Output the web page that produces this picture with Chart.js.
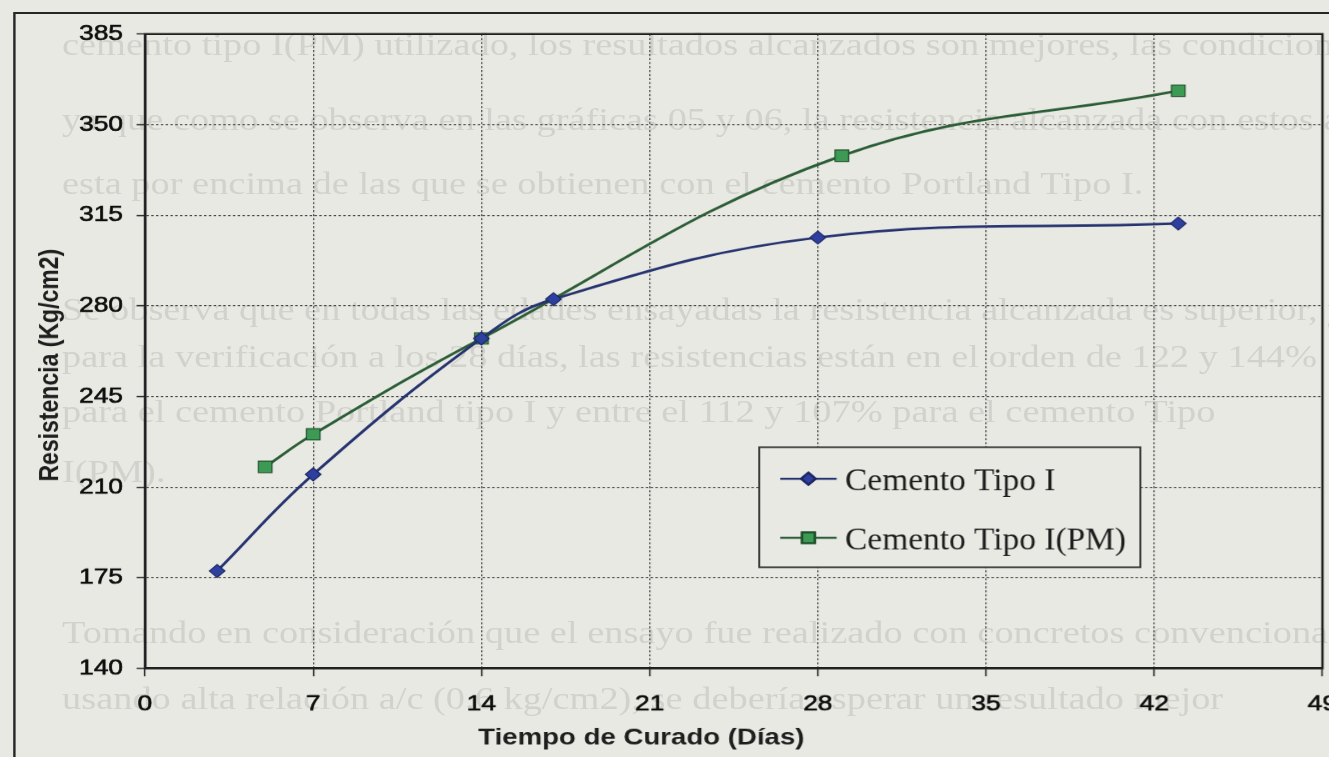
<!DOCTYPE html>
<html>
<head>
<meta charset="utf-8">
<script src="https://cdn.jsdelivr.net/npm/chart.js@4.4.0/dist/chart.umd.min.js"></script>
<style>
  html, body { margin: 0; padding: 0; width: 1329px; height: 757px; overflow: hidden; background: #e9e9e4; }
  /* the whole figure is drawn in a narrower space and widened 1.2x */
  #stage { position: absolute; left: 0; top: 0; width: 1117px; height: 757px; transform: scaleX(1.2); transform-origin: 0 0; }
  #frame { position: absolute; left: 10.5px; top: 12px; width: 1400px; height: 1000px; border: 2px solid #262626; box-sizing: border-box; }
  #texto { position: absolute; left: 51.7px; top: 0; font-family: "Liberation Serif", "Times New Roman", serif; font-size: 32px; color: #d2d2cd; white-space: nowrap; }
  #texto div { position: absolute; left: 0; }
  #c { position: absolute; left: 0; top: 0; }
</style>
</head>
<body>
<div id="stage">
  <div id="texto"></div>
  <div id="frame"></div>
  <canvas id="c" width="1117" height="757"></canvas>
</div>
<script>
// Compressive strength vs curing time for two cements
const diasTipoI = [3, 7, 14, 17, 28, 43];
const resistenciaTipoI = [177.6, 214.9, 267.4, 282.6, 306.4, 311.8];
const diasTipoIPM = [5, 7, 14, 29, 43];
const resistenciaTipoIPM = [217.8, 230.4, 267.4, 338.0, 363.1];

const ticksDias = [0, 7, 14, 21, 28, 35, 42, 49];
const ticksResistencia = [140, 175, 210, 245, 280, 315, 350, 385];

const serieTipoI = 'Cemento Tipo I';
const serieTipoIPM = 'Cemento Tipo I(PM)';
const tituloX = 'Tiempo de Curado (Días)';
const tituloY = 'Resistencia (Kg/cm2)';

// page text printed behind the figure
const lineasPagina = [
  'cemento tipo I(PM) utilizado, los resultados alcanzados son mejores, las condiciones',
  'ya que como se observa en las gráficas 05 y 06, la resistencia alcanzada con estos aditivos',
  'esta por encima de las que se obtienen con el cemento Portland Tipo I.',
  'Se observa que en todas las edades ensayadas la resistencia alcanzada es superior, ya que',
  'para la verificación a los 28 días, las resistencias están en el orden de 122 y 144%',
  'para el cemento Portland tipo I y entre el 112 y 107% para el cemento Tipo',
  'I(PM).',
  'Tomando en consideración que el ensayo fue realizado con concretos convencionales',
  'usando alta relación a/c (0.6 kg/cm2), se debería esperar un resultado mejor'
];
const lineasY = [25.5, 100.5, 164.5, 290.5, 337.5, 392.5, 452.5, 613.5, 679.5];

const fondo = '#e9e9e4';
const tinta = '#1e1e1e';

const capaTexto = document.getElementById('texto');
lineasPagina.forEach((t, i) => {
  const d = document.createElement('div');
  d.textContent = t;
  d.style.top = lineasY[i] + 'px';
  capaTexto.appendChild(d);
});

const puntos = (xs, ys) => xs.map((x, i) => ({ x, y: ys[i] }));

// frame around the plot, axis titles and the boxed legend
const decor = {
  id: 'decor',
  afterDatasetsDraw(chart) {
    const { ctx, chartArea: a } = chart;
    ctx.save();
    ctx.strokeStyle = tinta;
    ctx.lineWidth = 2;
    ctx.strokeRect(a.left, a.top, a.right - a.left, a.bottom - a.top);

    // legend box
    const lx = a.left + 511.7, ly = a.top + 413, lw = 317.5, lh = 120;
    ctx.fillStyle = fondo;
    ctx.fillRect(lx, ly, lw, lh);
    ctx.lineWidth = 1.6;
    ctx.strokeStyle = '#333';
    ctx.strokeRect(lx, ly, lw, lh);
    const filas = [ly + 31.5, ly + 90.5];
    chart.data.datasets.forEach((ds, i) => {
      const y = filas[i];
      ctx.strokeStyle = ds.borderColor;
      ctx.lineWidth = 2;
      ctx.beginPath();
      ctx.moveTo(lx + 17.5, y);
      ctx.lineTo(lx + 64.5, y);
      ctx.stroke();
      Chart.helpers.drawPoint(ctx, {
        pointStyle: ds.pointStyle,
        radius: ds.pointRadius - 0.5,
        borderWidth: 1
      }, lx + 41, y);
      ctx.fillStyle = ds.pointBackgroundColor;
      ctx.strokeStyle = ds.pointBorderColor;
      ctx.fill();
      ctx.stroke();
      ctx.save();
      ctx.translate(lx + 71.5, y + 3);
      ctx.scale(0.87, 1);
      ctx.fillStyle = tinta;
      ctx.font = '32px "Liberation Serif", "Times New Roman", serif';
      ctx.textAlign = 'left';
      ctx.textBaseline = 'middle';
      ctx.fillText(ds.label, 0, 0);
      ctx.restore();
    });

    // axis titles
    ctx.fillStyle = tinta;
    ctx.font = 'bold 23px "Liberation Sans", Arial, sans-serif';
    ctx.textAlign = 'center';
    ctx.textBaseline = 'middle';
    ctx.fillText(tituloX, a.left + 413.5, a.bottom + 70);
    ctx.translate(a.left - 79, a.top + 331);
    ctx.rotate(-Math.PI / 2);
    ctx.fillText(tituloY, 0, 0);
    ctx.restore();
  }
};

const fuenteTicks = { family: '"Liberation Sans", Arial, sans-serif', size: 22 };

new Chart(document.getElementById('c'), {
  type: 'line',
  data: {
    datasets: [
      {
        label: serieTipoI,
        data: puntos(diasTipoI, resistenciaTipoI),
        borderColor: '#26336f',
        borderWidth: 2.5,
        pointStyle: 'rectRot',
        pointRadius: 6.5,
        pointBackgroundColor: '#2d40a0',
        pointBorderColor: '#1c2760',
        pointBorderWidth: 1,
        tension: 0.4,
        fill: false
      },
      {
        label: serieTipoIPM,
        data: puntos(diasTipoIPM, resistenciaTipoIPM),
        borderColor: '#2b5d36',
        borderWidth: 2.5,
        pointStyle: 'rect',
        pointRadius: 8,
        pointBackgroundColor: '#3c9a54',
        pointBorderColor: '#1f4f2a',
        pointBorderWidth: 1,
        tension: 0.4,
        fill: false
      }
    ]
  },
  options: {
    responsive: false,
    animation: false,
    devicePixelRatio: 1.2,
    layout: { padding: { left: 20.8, right: 15.3, top: 34, bottom: 39 } },
    plugins: { legend: { display: false }, tooltip: { enabled: false } },
    scales: {
      x: {
        type: 'linear',
        min: ticksDias[0],
        max: ticksDias[ticksDias.length - 1],
        afterBuildTicks: s => { s.ticks = ticksDias.map(v => ({ value: v })); },
        afterFit: s => { s.height = 50; s.paddingLeft = 0; s.paddingRight = 0; },
        ticks: { color: '#0c0c0c', padding: 15, font: fuenteTicks, textStrokeColor: '#0c0c0c', textStrokeWidth: 0.6 },
        grid: { color: '#3a3a3a', lineWidth: 1, tickLength: 8, tickColor: '#2a2a2a', tickWidth: 1.3, tickBorderDash: [] },
        border: { display: true, color: tinta, width: 2, dash: [2, 2] }
      },
      y: {
        min: ticksResistencia[0],
        max: ticksResistencia[ticksResistencia.length - 1],
        afterBuildTicks: s => { s.ticks = ticksResistencia.map(v => ({ value: v })); },
        afterFit: s => { s.width = 100; s.paddingTop = 0; s.paddingBottom = 0; },
        ticks: { color: '#0c0c0c', padding: 11.3, font: fuenteTicks, textStrokeColor: '#0c0c0c', textStrokeWidth: 0.6 },
        grid: { color: '#3a3a3a', lineWidth: 1, tickLength: 7, tickColor: '#2a2a2a', tickWidth: 1.3, tickBorderDash: [] },
        border: { display: true, color: tinta, width: 2, dash: [2, 2] }
      }
    }
  },
  plugins: [decor]
});
</script>
</body>
</html>
